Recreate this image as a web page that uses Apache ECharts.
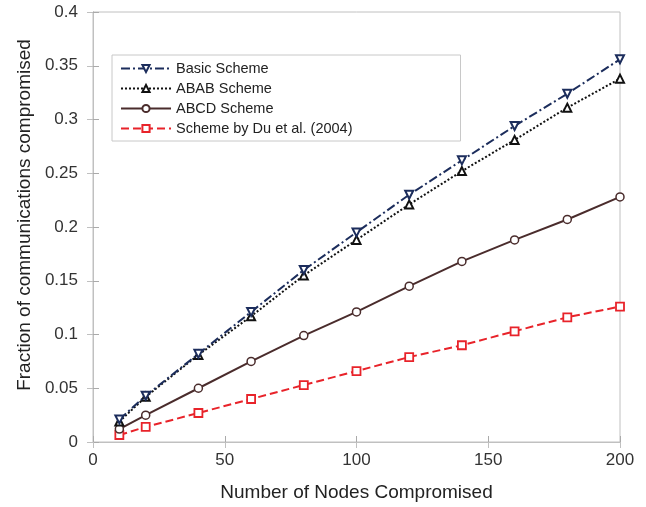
<!DOCTYPE html>
<html>
<head>
<meta charset="utf-8">
<script src="https://cdn.jsdelivr.net/npm/echarts@6/dist/echarts.min.js"></script>
<style>html,body{margin:0;padding:0;background:#fff;}#c{width:646px;height:507px;}</style>
</head>
<body>
<div id="c"></div>
<script>
var nodes = [10, 20, 40, 60, 80, 100, 120, 140, 160, 180, 200];
var basicScheme = [0.021, 0.043, 0.082, 0.121, 0.160, 0.195, 0.230, 0.262, 0.294, 0.324, 0.356];
var ababScheme = [0.019, 0.042, 0.081, 0.117, 0.155, 0.188, 0.221, 0.252, 0.281, 0.311, 0.338];
var abcdScheme = [0.012, 0.025, 0.050, 0.075, 0.099, 0.121, 0.145, 0.168, 0.188, 0.207, 0.228];
var duScheme = [0.0065, 0.014, 0.027, 0.040, 0.053, 0.066, 0.079, 0.090, 0.103, 0.116, 0.126];
var seriesNames = ['Basic Scheme', 'ABAB Scheme', 'ABCD Scheme', 'Scheme by Du et al. (2004)'];
var xTicks = [0, 50, 100, 150, 200];
var yTicks = [0, 0.05, 0.1, 0.15, 0.2, 0.25, 0.3, 0.35, 0.4];

function pairs(vals) { return nodes.map(function (n, i) { return [n, vals[i]]; }); }

var font = 'Liberation Sans, Arial, Helvetica, sans-serif';
var chart = echarts.init(document.getElementById('c'), null, {renderer: 'canvas'});

var yLabelMap = {};
yTicks.forEach(function (t) { yLabelMap[t.toFixed(2)] = String(t); });
var xLabelMap = {};
xTicks.forEach(function (t) { xLabelMap[String(t)] = String(t); });

var opt = {
  animation: false,
  backgroundColor: '#fff',
  grid: {left: 93, right: 26, top: 12, bottom: 63, show: true, borderColor: '#c0c0c0', borderWidth: 1},
  legend: {
    left: 112, top: 55, orient: 'vertical', itemGap: 5, itemWidth: 50, itemHeight: 9,
    backgroundColor: '#fff', borderColor: '#c8c8c8', borderWidth: 1, padding: [6, 108, 5, 8],
    textStyle: {fontFamily: font, fontSize: 14.5, color: '#222', lineHeight: 15},
    data: seriesNames
  },
  xAxis: [{
    type: 'value', min: 0, max: 200, interval: 50,
    name: 'Number of Nodes Compromised', nameLocation: 'middle', nameGap: 41,
    nameTextStyle: {fontFamily: font, fontSize: 19, color: '#222'},
    axisLine: {show: true, lineStyle: {color: '#aaa'}},
    axisTick: {inside: true, length: 6, lineStyle: {color: '#aaa'}},
    axisLabel: {fontFamily: font, fontSize: 17, color: '#333', margin: 10,
      formatter: function (v) { return xLabelMap[String(v)] || ''; }},
    splitLine: {show: false}
  }, {
    type: 'value', min: 0, max: 200, interval: 50, position: 'top',
    axisLine: {show: true, lineStyle: {color: '#c0c0c0'}},
    axisTick: {inside: true, length: 6, lineStyle: {color: '#c0c0c0'}},
    axisLabel: {show: false}, splitLine: {show: false}
  }],
  yAxis: [{
    type: 'value', min: 0, max: 0.4, interval: 0.05,
    name: 'Fraction of communications compromised', nameLocation: 'middle', nameGap: 57,
    nameTextStyle: {fontFamily: font, fontSize: 19, color: '#222', padding: [0, 0, 0, 24]},
    axisLine: {show: true, lineStyle: {color: '#aaa'}},
    axisTick: {inside: true, length: 6, lineStyle: {color: '#aaa'}},
    axisLabel: {fontFamily: font, fontSize: 17, color: '#333', margin: 15,
      formatter: function (v) { return yLabelMap[v.toFixed(2)] || ''; }},
    splitLine: {show: false}
  }, {
    type: 'value', min: 0, max: 0.4, interval: 0.05, position: 'right',
    axisLine: {show: true, lineStyle: {color: '#c0c0c0'}},
    axisTick: {inside: true, length: 6, lineStyle: {color: '#c0c0c0'}},
    axisLabel: {show: false}, splitLine: {show: false}
  }],
  series: [
    {
      name: seriesNames[0], type: 'line', data: pairs(basicScheme),
      symbol: 'triangle', symbolRotate: 180, symbolSize: 8,
      lineStyle: {color: '#1c2d5c', width: 2, type: [9, 3, 2, 3]},
      itemStyle: {color: '#fff', borderColor: '#1c2d5c', borderWidth: 2}, z: 4
    },
    {
      name: seriesNames[1], type: 'line', data: pairs(ababScheme),
      symbol: 'triangle', symbolSize: 8,
      lineStyle: {color: '#111', width: 2, type: [2, 2]},
      itemStyle: {color: '#fff', borderColor: '#111', borderWidth: 2}, z: 3
    },
    {
      name: seriesNames[2], type: 'line', data: pairs(abcdScheme),
      symbol: 'circle', symbolSize: 8,
      lineStyle: {color: '#4a2c2c', width: 2, type: 'solid'},
      itemStyle: {color: '#fff', borderColor: '#4a2c2c', borderWidth: 1.5}, z: 2
    },
    {
      name: seriesNames[3], type: 'line', data: pairs(duScheme),
      symbol: 'rect', symbolSize: 8,
      lineStyle: {color: '#e8232a', width: 2, type: [8, 4]},
      itemStyle: {color: '#fff', borderColor: '#e8232a', borderWidth: 1.8}, z: 1
    }
  ]
};
chart.setOption(opt);
</script>
</body>
</html>
